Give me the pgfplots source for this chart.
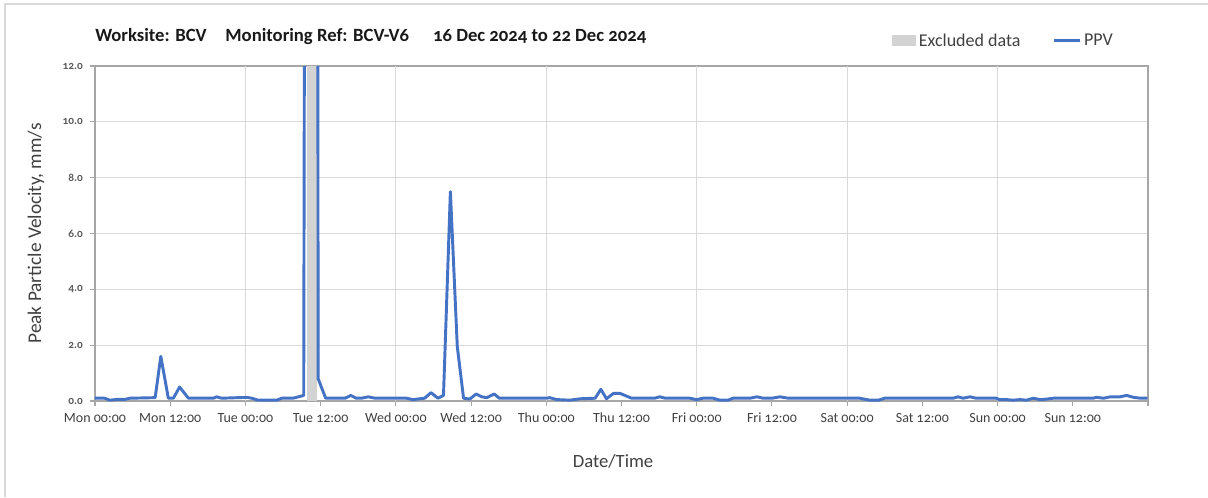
\documentclass[border=0pt]{standalone}
\usepackage{pgfplots}
\pgfplotsset{compat=1.18}
\usepackage{fontspec}
\setmainfont{Carlito}[Numbers=OldStyle]
\definecolor{ppv}{RGB}{68,114,196}
\definecolor{band}{RGB}{211,211,211}
\definecolor{gridc}{RGB}{217,217,217}
\definecolor{framec}{RGB}{166,166,166}
\definecolor{txt}{RGB}{64,64,64}
\pgfplotstableread{
h v
0 0.1
1.5 0.1
2.4 0.03
3.7 0.06
4.8 0.06
5.6 0.1
9.6 0.12
10.5 1.6
11.7 0.1
12.5 0.1
13.5 0.5
14.9 0.1
18.9 0.1
19.4 0.15
20.2 0.1
24.2 0.13
25.0 0.1
26.0 0.03
29.0 0.03
29.8 0.1
31.6 0.1
33.3 0.2
33.8 60
35.4 60
35.6 0.8
36.8 0.1
39.9 0.1
40.8 0.2
41.7 0.1
42.5 0.1
43.6 0.15
44.7 0.1
49.7 0.1
50.7 0.05
52.6 0.1
53.6 0.3
54.7 0.1
55.6 0.2
56.7 7.5
57.8 1.95
58.8 0.1
59.8 0.07
60.8 0.25
61.7 0.15
62.5 0.12
63.7 0.25
64.5 0.1
72.1 0.1
72.5 0.12
73.7 0.05
75.8 0.03
77.4 0.08
79.8 0.1
80.7 0.42
81.6 0.08
82.7 0.27
83.8 0.27
85.6 0.1
89.3 0.1
90.1 0.15
91.0 0.1
94.9 0.1
96.0 0.05
97.0 0.1
98.6 0.1
99.7 0.03
101.0 0.03
101.8 0.1
104.5 0.1
105.6 0.15
106.6 0.1
108.0 0.1
109.3 0.15
110.6 0.1
122.0 0.1
123.6 0.03
125.0 0.03
126.0 0.1
136.9 0.1
137.7 0.15
138.5 0.1
139.6 0.15
140.6 0.1
143.8 0.1
144.3 0.05
145.4 0.05
146.5 0.03
147.6 0.05
148.6 0.03
149.7 0.1
150.8 0.05
151.9 0.07
152.9 0.1
159.2 0.1
159.8 0.13
160.9 0.1
162.0 0.15
163.5 0.15
164.6 0.2
165.7 0.13
166.8 0.1
167.9 0.1
}\ppvdata
\begin{document}
\begin{tikzpicture}
\path[use as bounding box] (0,0) rectangle (906pt,372.75pt);
\draw[gridc, line width=1.1pt] (3.75pt,0) -- (3.75pt,369.75pt) -- (906pt,369.75pt);
\begin{axis}[
  at={(71.25pt,72pt)}, anchor=south west,
  width=789.75pt, height=251.25pt, scale only axis,
  xmin=0, xmax=168, ymin=0, ymax=12,
  xtick={0,12,...,168},
  xticklabels={Mon 00:00, Mon 12:00, Tue 00:00, Tue 12:00, Wed 00:00, Wed 12:00, Thu 00:00, Thu 12:00, Fri 00:00, Fri 12:00, Sat 00:00, Sat 12:00, Sun 00:00, Sun 12:00, {}},
  ytick={0,2,...,12},
  ymajorgrids,
  grid style={gridc, line width=0.8pt},
  extra x ticks={24,48,...,144},
  extra x tick labels={},
  extra x tick style={xmajorgrids=true, major tick length=0pt},
  tick pos=left,
  tick align=outside,
  major tick length=3.5pt,
  tick style={framec, line width=0.8pt},
  axis line style={framec, line width=0.9pt},
  /pgf/number format/assume math mode=true,
  y tick label style={/pgf/number format/fixed, /pgf/number format/fixed zerofill, /pgf/number format/precision=1, /tikz/font=\bfseries\fontsize{8.5}{9}\selectfont, /tikz/text=txt!85, /tikz/xshift=-2pt},
  x tick label style={font=\fontsize{10.5}{12}\selectfont, text=txt, yshift=-2pt},
  xlabel={Date/Time},
  ylabel={Peak Particle Velocity, mm/s},
  every axis x label/.style={at={(axis description cs:0.492,-0.179)}, anchor=center, font=\fontsize{14}{16}\selectfont, text=txt},
  every axis y label/.style={at={(axis description cs:-0.056,0.5)}, rotate=90, anchor=center, font=\fontsize{14.5}{16}\selectfont, text=txt},
  title={Worksite: BCV\hspace{14pt}Monitoring Ref: BCV-V6\hspace{18pt}16 Dec 2024 to 22 Dec 2024},
  every axis title/.style={at={(axis description cs:0,1.087)}, anchor=west, inner sep=0pt, font=\bfseries\fontsize{14}{16}\selectfont, text=black!90},
  legend style={at={(axis description cs:0.753,1.075)}, anchor=west, draw=none, fill=none,
    font=\fontsize{13.5}{15}\selectfont, text=txt, legend columns=2,
    /tikz/every even column/.append style={column sep=22pt}, cells={anchor=west}},
]
\addplot[fill=band, draw=none, legend image code/.code={\fill[band] (0pt,-4.1pt) rectangle (18pt,4.1pt);}]
  coordinates {(33.8,0) (33.8,12) (35.4,12) (35.4,0)} -- cycle;
\addlegendentry{Excluded data}
\addplot[ppv, line width=2.2pt, line join=round, legend image code/.code={\draw[ppv, line width=2.2pt] (0pt,0pt) -- (19.5pt,0pt);}]
  table[x=h, y=v] {\ppvdata};
\addlegendentry{PPV}
\end{axis}
\end{tikzpicture}
\end{document}
